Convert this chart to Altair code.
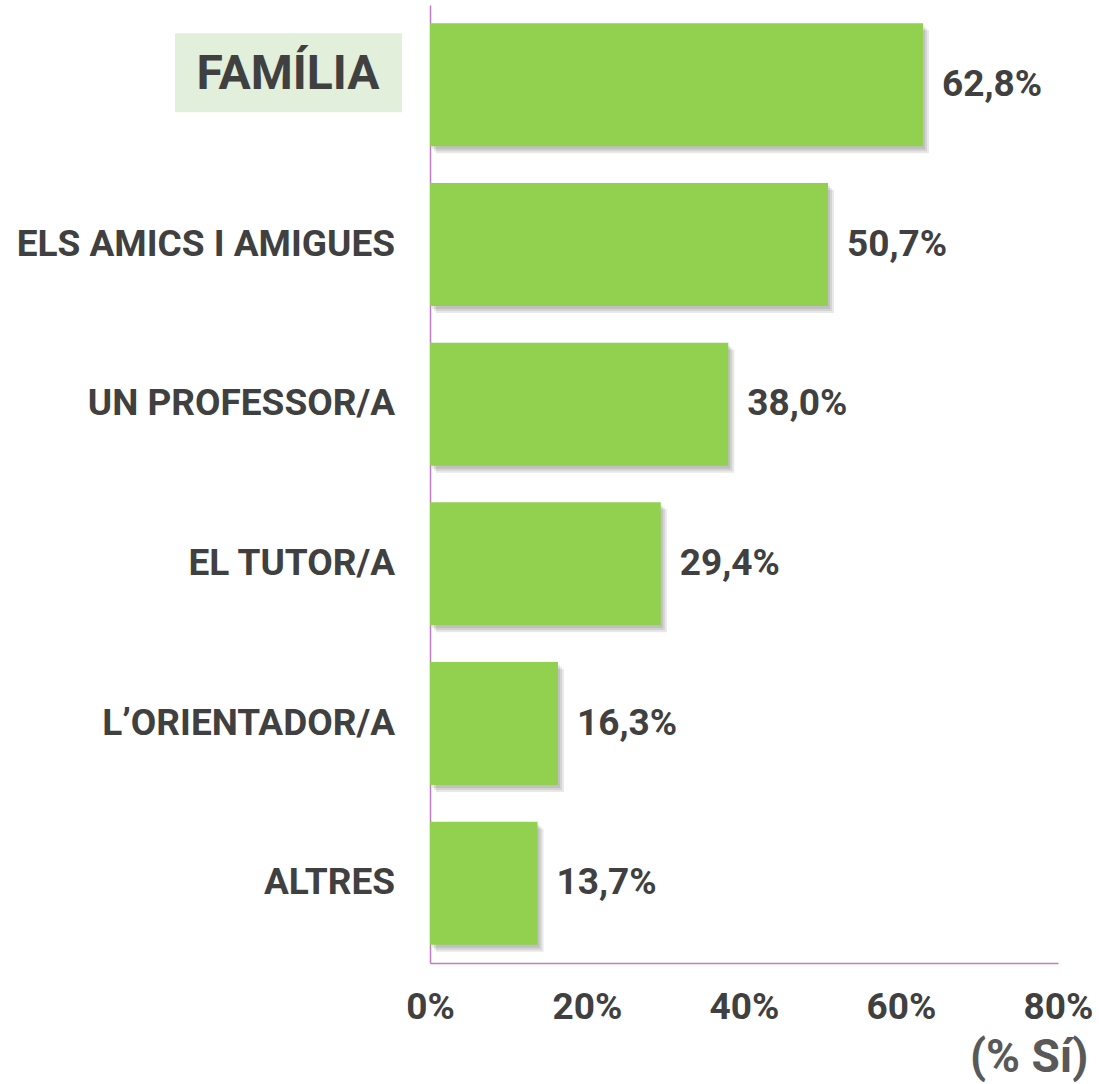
import altair as alt
import pandas as pd

categories = ["FAMÍLIA", "ELS AMICS I AMIGUES", "UN PROFESSOR/A", "EL TUTOR/A", "L’ORIENTADOR/A", "ALTRES"]
values = [62.8, 50.7, 38.0, 29.4, 16.3, 13.7]
value_labels = ["62,8%", "50,7%", "38,0%", "29,4%", "16,3%", "13,7%"]
highlight = [True, False, False, False, False, False]
tick_values = [0, 20, 40, 60, 80]

df = pd.DataFrame({"cat": categories, "val": values, "lab": value_labels, "hl": highlight})

FONT = "Roboto"
TXT = "#404040"
AXIS_COL = "#C07CC4"

y = alt.Y("cat:N", sort=categories,
          scale=alt.Scale(paddingInner=0.23, paddingOuter=0.115),
          axis=alt.Axis(labels=False, ticks=False, title=None, grid=False,
                        domainColor=AXIS_COL, domainWidth=1.5))
x = alt.X("val:Q", scale=alt.Scale(domain=[0, 80], nice=False),
          axis=alt.Axis(values=tick_values, labelExpr="datum.value + '%'", ticks=False, grid=False,
                        domainColor=AXIS_COL, domainWidth=1.5,
                        labelFont=FONT, labelFontWeight="bold", labelFontSize=37, labelColor=TXT,
                        labelPadding=26, labelFlush=False,
                        title="(% Sí)", titleFont=FONT, titleFontWeight="bold", titleFontSize=46,
                        titleColor="#595959", titleAlign="right", titleBaseline="alphabetic",
                        titleX=658, titleY=108, titleAngle=0))

base = alt.Chart(df)

shadows = [
    base.mark_bar(color="black", opacity=0.09, xOffset=o, yOffset=o + 1).encode(x=x, y=y)
    for o in (2, 4, 6)
]
bars = base.mark_bar(color="#92D050").encode(x=x, y=y)

val_text = base.mark_text(align="left", baseline="middle", dx=19, font=FONT, fontWeight="bold",
                          fontSize=37, color=TXT).encode(x=x, y=y, text="lab:N")

box = base.transform_filter("datum.hl").mark_bar(color="#E2EFDA", size=79, yOffset=-12).encode(
    x=alt.value(-255), x2=alt.value(-28), y=y)

cat_text = base.transform_filter("!datum.hl").mark_text(
    align="right", baseline="middle", font=FONT, fontWeight="bold", fontSize=37, color=TXT
).encode(x=alt.value(-35), y=y, text="cat:N")

hl_text = base.transform_filter("datum.hl").mark_text(
    align="center", baseline="middle", yOffset=-10, font=FONT, fontWeight="bold", fontSize=48, color=TXT
).encode(x=alt.value(-142), y=y, text="cat:N")

chart = alt.layer(box, *shadows, bars, val_text, cat_text, hl_text).properties(
    width=628, height=958,
    background="white",
    autosize=alt.AutoSizeParams(type="none"),
    padding={"left": 430, "top": 5, "right": 41, "bottom": 121},
).configure_view(stroke=None)

chart.save("out.html", embed_options={"renderer": "svg", "actions": False})
